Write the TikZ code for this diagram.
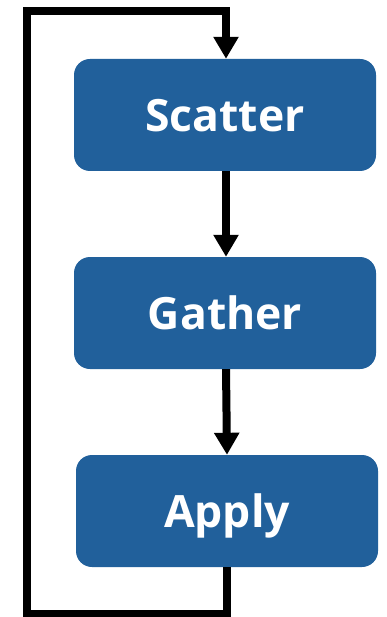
\documentclass[tikz,border=0pt]{standalone}
\usepackage{fontspec}
\setmainfont{Open Sans}
\usetikzlibrary{arrows.meta}
\definecolor{boxblue}{RGB}{33,96,155}
\begin{document}
\begin{tikzpicture}[x=1pt,y=-1pt,
  stage/.style={draw=none,fill=boxblue,rounded corners=16pt,minimum width=302pt,minimum height=112pt,
    text=white,font=\fontsize{44.5}{50}\selectfont\bfseries,inner sep=0pt,text height=33pt,text depth=0pt},
  flow/.style={line width=8pt,-{Triangle[width=24pt,length=22pt]}}]
\useasboundingbox (0,0) rectangle (386,617);
\node[stage] (scatter) at (225,115) {Scatter};
\node[stage] (gather) at (225,313) {Gather};
\node[stage] (apply) at (227,511) {Apply};
\draw[flow] ([xshift=1pt]scatter.south) -- ([xshift=1pt]gather.north);
\draw[flow] ([xshift=1pt]gather.south) -- (apply.north);
\coordinate (c1) at (227,614);
\coordinate (c2) at (26.5,614);
\coordinate (c3) at (26.5,11);
\coordinate (c4) at (226,11);
\draw[flow] (apply.south) -- (c1) -- (c2) -- (c3) -- (c4) -- ([xshift=1pt]scatter.north);
\end{tikzpicture}
\end{document}
